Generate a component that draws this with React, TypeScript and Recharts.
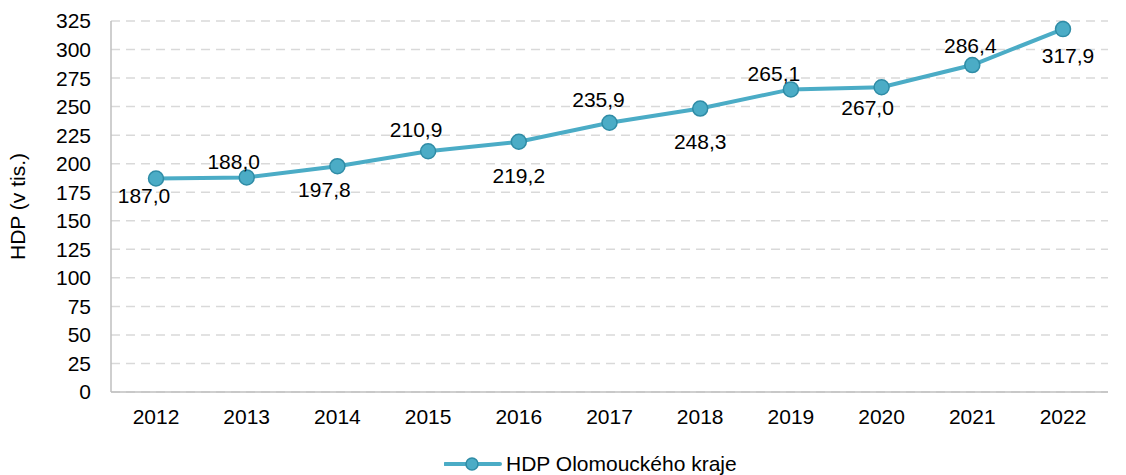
import { LineChart, Line, XAxis, YAxis, CartesianGrid, Legend } from 'recharts';

const years = ['2012', '2013', '2014', '2015', '2016', '2017', '2018', '2019', '2020', '2021', '2022'];
const hdp = [187.0, 188.0, 197.8, 210.9, 219.2, 235.9, 248.3, 265.1, 267.0, 286.4, 317.9];
const yTicks = [0, 25, 50, 75, 100, 125, 150, 175, 200, 225, 250, 275, 300, 325];

// label nudges relative to the point (dx, dy)
const labelDx = [-12, -13, -13, -12, 0, -11, 0, -17, -14, -2, 5];
const labelDy = [17, -16, 23, -22, 34, -23, 33, -16, 20, -20, 26];

const data = years.map((year, i) => ({ year, value: hdp[i] }));

const FONT = '"Liberation Sans", Arial, sans-serif';
const FS = 21;
const COLOR = '#4BACC6';
const DOT_STROKE = '#2F8CA6';

const fmt = (v: number) => v.toFixed(1).replace('.', ',');

const renderLabel = (props: any) => {
  const { x, y, value, index } = props;
  return (
    <text
      key={`lbl-${index}`}
      x={x + labelDx[index]}
      y={y + labelDy[index]}
      textAnchor="middle"
      dominantBaseline="central"
      fontSize={FS}
      fontFamily={FONT}
      fill="#000"
    >
      {fmt(value)}
    </text>
  );
};

const LegendContent = () => (
  <div
    style={{
      display: 'flex',
      justifyContent: 'flex-start',
      alignItems: 'center',
      marginTop: 20,
      marginLeft: 444,
      fontFamily: FONT,
      fontSize: FS,
      color: '#000',
    }}
  >
    <svg width={58} height={16} style={{ marginRight: 4 }}>
      <line x1={1} y1={8} x2={56} y2={8} stroke={COLOR} strokeWidth={4} strokeLinecap="round" />
      <circle cx={28} cy={8} r={6} fill={COLOR} stroke={DOT_STROKE} strokeWidth={1.5} />
    </svg>
    <span>HDP Olomouckého kraje</span>
  </div>
);

const App = () => {
  return (
    <div style={{ width: 1126, height: 475, background: '#fff' }}>
      <style>{`body { margin: 0; }`}</style>
      <LineChart width={1126} height={475} data={data} margin={{ top: 21, right: 18, left: 0, bottom: 0 }}>
        <CartesianGrid vertical={false} stroke="#D9D9D9" strokeWidth={1.5} strokeDasharray="9 6" />
        <XAxis
          dataKey="year"
          padding={{ left: 45, right: 45 }}
          height={40}
          tickLine={false}
          tickSize={0}
          tickMargin={17}
          axisLine={{ stroke: '#BFBFBF', strokeWidth: 1.5 }}
          tick={{ fill: '#000', fontSize: FS, fontFamily: FONT }}
        />
        <YAxis
          width={111}
          domain={[0, 325]}
          ticks={yTicks}
          interval={0}
          tickLine={false}
          tickSize={0}
          tickMargin={20}
          axisLine={{ stroke: '#BFBFBF', strokeWidth: 1.5 }}
          tick={{ fill: '#000', fontSize: FS, fontFamily: FONT }}
          label={{
            value: 'HDP (v tis.)',
            angle: -90,
            position: 'insideLeft',
            offset: 18,
            style: { textAnchor: 'middle', fill: '#000', fontSize: FS, fontFamily: FONT },
          }}
        />
        <Legend verticalAlign="bottom" height={43} content={<LegendContent />} />
        <Line
          type="linear"
          dataKey="value"
          name="HDP Olomouckého kraje"
          stroke={COLOR}
          strokeWidth={4}
          dot={{ r: 7.5, fill: COLOR, stroke: DOT_STROKE, strokeWidth: 1.5 }}
          activeDot={false}
          label={renderLabel}
          isAnimationActive={false}
        />
      </LineChart>
    </div>
  );
};

export default App;
